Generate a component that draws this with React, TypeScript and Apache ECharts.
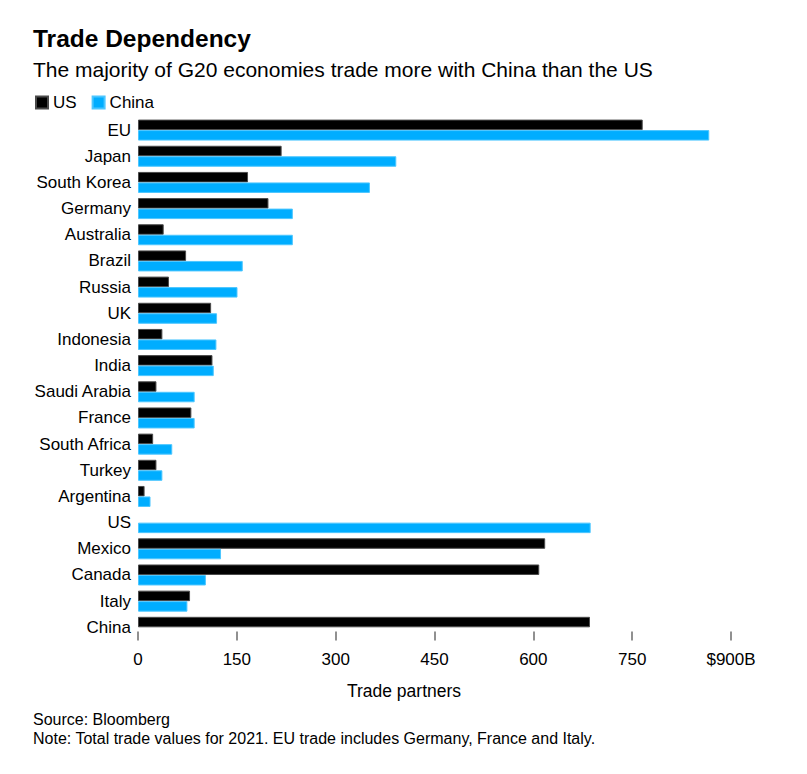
import React, { useEffect, useRef } from "react";
import * as echarts from "echarts";

const categories = [
  "EU", "Japan", "South Korea", "Germany", "Australia", "Brazil", "Russia", "UK",
  "Indonesia", "India", "Saudi Arabia", "France", "South Africa", "Turkey",
  "Argentina", "US", "Mexico", "Canada", "Italy", "China",
];
const usValues: (number | null)[] = [
  766, 218, 167, 198, 39, 73, 47, 111, 37, 113, 28, 81, 23, 28, 10, null, 618, 609, 79, 686,
];
const chinaValues: (number | null)[] = [
  867, 392, 352, 235, 235, 159, 151, 120, 119, 115, 86, 86, 52, 37, 19, 687, 126, 103, 75, null,
];
const xTickMax = 900;
const xTickInterval = 150;

const FONT = "'Liberation Sans', Arial, Helvetica, sans-serif";

export default function App() {
  const ref = useRef<HTMLDivElement>(null);
  useEffect(() => {
    if (!ref.current) return;
    const chart = echarts.init(ref.current, null, { renderer: "svg" });
    chart.setOption({
      animation: false,
      backgroundColor: "#ffffff",
      textStyle: { fontFamily: FONT },
      legend: {
        left: 30,
        top: 89,
        icon: "rect",
        itemWidth: 12,
        itemHeight: 12,
        itemGap: 15,
        textStyle: { fontFamily: FONT, fontSize: 17, color: "#000" },
        data: ["US", "China"],
      },
      grid: { left: 138, right: 76, top: 117, height: 523.4, containLabel: false },
      xAxis: {
        type: "value",
        min: 0,
        max: xTickMax,
        interval: xTickInterval,
        axisLine: { show: false },
        axisTick: {
          show: true,
          inside: true,
          length: 9,
          lineStyle: { color: "#6b6b6b", width: 1.5 },
        },
        splitLine: { show: false },
        axisLabel: {
          margin: 11,
          fontFamily: FONT,
          fontSize: 17,
          color: "#000",
          formatter: (v: number) => (v === xTickMax ? `$${v}B` : `${v}`),
        },
      },
      yAxis: {
        type: "category",
        data: categories,
        inverse: true,
        axisLine: { show: false },
        axisTick: { show: false },
        axisLabel: { margin: 7, fontFamily: FONT, fontSize: 17, color: "#000" },
      },
      series: [
        {
          name: "US",
          type: "bar",
          data: usValues,
          barWidth: 10.5,
          barGap: "0%",
          itemStyle: { color: "#000000", borderColor: "#4a4a4a", borderWidth: 1 },
        },
        {
          name: "China",
          type: "bar",
          data: chinaValues,
          barWidth: 10.5,
          barGap: "0%",
          itemStyle: { color: "#00adff", borderColor: "#4cc6ff", borderWidth: 1 },
        },
      ],
      graphic: [
        {
          type: "text",
          left: 33,
          top: 26,
          style: {
            text: "Trade Dependency",
            fontFamily: FONT,
            fontSize: 24.5,
            fontWeight: "bold",
            fill: "#000",
          },
        },
        {
          type: "text",
          left: 33,
          top: 59,
          style: {
            text: "The majority of G20 economies trade more with China than the US",
            fontFamily: FONT,
            fontSize: 21,
            fill: "#000",
          },
        },
        {
          type: "text",
          x: 404,
          y: 691,
          style: {
            text: "Trade partners",
            fontFamily: FONT,
            fontSize: 17.5,
            fill: "#000",
            align: "center",
            verticalAlign: "middle",
          },
        },
        {
          type: "text",
          left: 33,
          top: 711,
          style: {
            text: "Source: Bloomberg",
            fontFamily: FONT,
            fontSize: 16,
            fill: "#000",
          },
        },
        {
          type: "text",
          left: 33,
          top: 730,
          style: {
            text: "Note: Total trade values for 2021. EU trade includes Germany, France and Italy.",
            fontFamily: FONT,
            fontSize: 16,
            fill: "#000",
          },
        },
      ],
    });
    return () => chart.dispose();
  }, []);
  return <div ref={ref} style={{ width: 807, height: 774, margin: -8 }} />;
}
